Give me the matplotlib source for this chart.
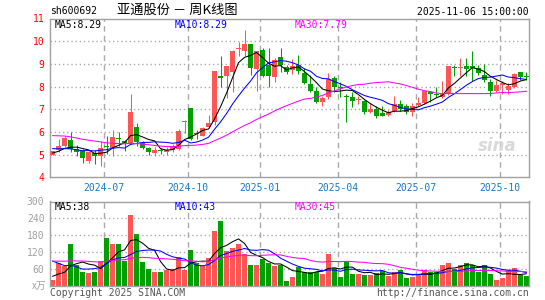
import matplotlib
matplotlib.use("Agg")
import matplotlib.pyplot as plt
import numpy as np
import pandas as pd

plt.rcParams['font.family'] = ['DejaVu Sans Mono', 'Noto Sans CJK SC']

# weekly K-line of sh600692, week of 2024-04-29 .. week of 2025-11-03
open_ = [5.00, 5.22, 5.37, 5.66, 5.25, 5.22, 4.74, 5.07, 4.93, 5.40,
         5.31, 5.70, 5.62, 5.47, 6.20, 5.50, 5.29, 5.06, 5.19, 5.13,
         5.21, 5.25, 6.44, 7.06, 5.96, 5.84, 6.20, 6.42, 8.48, 8.48,
         8.62, 9.66, 9.57, 9.87, 8.77, 9.62, 8.94, 8.40, 9.31, 8.87,
         8.74, 8.94, 8.59, 8.11, 7.82, 7.30, 7.52, 8.36, 7.96, 7.55,
         7.52, 7.40, 7.38, 6.89, 7.01, 6.83, 6.74, 6.94, 7.23, 7.16,
         6.89, 7.18, 7.27, 7.77, 7.64, 7.52, 7.67, 8.86, 8.82, 8.89,
         8.92, 8.80, 8.50, 8.21, 7.82, 8.06, 7.86, 7.96, 8.62, 8.48]
high = [5.17, 5.69, 5.84, 5.98, 5.43, 5.25, 5.18, 5.22, 5.62, 5.84,
        6.10, 6.01, 5.64, 7.68, 6.39, 5.62, 5.32, 5.32, 5.30, 5.32,
        5.45, 6.13, 6.54, 7.07, 6.10, 6.20, 6.74, 8.70, 9.35, 8.92,
        9.62, 9.97, 10.50, 9.87, 9.57, 9.72, 9.68, 9.28, 9.68, 8.94,
        9.21, 9.38, 8.80, 8.50, 7.96, 7.60, 8.59, 8.47, 8.18, 7.67,
        7.74, 7.57, 7.42, 7.27, 7.16, 7.16, 6.98, 7.57, 7.42, 7.23,
        7.27, 7.52, 7.82, 7.82, 7.96, 8.26, 8.92, 8.94, 9.24, 9.28,
        9.57, 8.94, 8.99, 8.33, 8.30, 8.26, 8.15, 8.59, 8.65, 8.62]
low = [4.98, 5.10, 5.32, 5.10, 4.93, 4.63, 4.63, 4.59, 4.52, 5.01,
       4.96, 5.40, 5.16, 5.45, 5.40, 5.25, 4.99, 4.93, 5.01, 4.99,
       5.13, 5.22, 5.95, 5.66, 5.69, 5.81, 6.16, 6.30, 8.00, 7.48,
       7.74, 9.35, 9.35, 8.50, 7.82, 8.40, 8.00, 8.21, 8.62, 8.55,
       8.55, 8.55, 8.11, 7.74, 7.27, 7.16, 7.45, 7.74, 7.52, 6.42,
       7.08, 7.23, 6.79, 6.83, 6.60, 6.69, 6.69, 6.89, 6.94, 6.79,
       6.72, 7.16, 7.23, 7.33, 7.52, 7.48, 7.62, 8.45, 8.48, 8.48,
       8.26, 8.50, 8.18, 7.57, 7.74, 7.67, 7.67, 7.92, 8.30, 8.30]
close = [5.15, 5.40, 5.72, 5.25, 5.13, 4.84, 5.10, 4.93, 5.31, 5.35,
         5.79, 5.67, 5.51, 6.89, 5.54, 5.28, 5.12, 5.20, 5.16, 5.22,
         5.40, 6.06, 6.49, 5.69, 5.90, 6.19, 6.38, 8.70, 8.39, 8.91,
         9.57, 9.70, 9.87, 8.80, 9.57, 8.45, 8.48, 9.18, 8.94, 8.62,
         8.89, 8.70, 8.15, 7.79, 7.33, 7.48, 8.33, 7.96, 7.93, 7.52,
         7.38, 7.44, 6.89, 7.01, 6.72, 6.72, 6.89, 7.23, 7.01, 6.86,
         7.16, 7.27, 7.82, 7.67, 7.61, 7.67, 8.92, 8.82, 8.86, 8.77,
         8.80, 8.59, 8.30, 7.82, 8.06, 8.15, 8.04, 8.55, 8.40, 8.40]
volume = [19, 80, 68, 149, 75, 47, 43, 50, 86, 170,
          147, 149, 86, 252, 185, 83, 58, 50, 50, 54,
          58, 103, 54, 128, 82, 68, 99, 195, 230, 124,
          134, 149, 113, 72, 72, 93, 80, 68, 72, 17,
          29, 66, 50, 50, 50, 40, 114, 62, 29, 83,
          40, 40, 36, 36, 43, 52, 33, 47, 54, 26,
          29, 40, 54, 50, 47, 75, 82, 58, 75, 79,
          75, 47, 72, 40, 19, 26, 54, 61, 36, 33]

# earlier weeks, estimated from where the MA lines start; only seeds the averages
warmup_close = [5.7, 6.0, 6.4, 6.6, 6.5, 6.3, 6.1, 6.4, 6.6, 6.3,
                6.1, 5.9, 6.2, 6.0, 5.8, 6.0, 6.2, 6.0, 5.8, 5.6,
                5.5, 5.6, 5.4, 5.5, 5.3, 5.0, 5.1, 5.0, 5.1]
warmup_volume = [90, 70, 110, 85, 60, 75, 95, 120, 80, 70,
                 65, 90, 100, 85, 75, 95, 110, 80, 90, 100,
                 160, 150, 130, 140, 125, 40, 35, 38, 33]

tick_labels = ['2024-07', '2024-10', '2025-01', '2025-04', '2025-07', '2025-10']
tick_weeks = [9, 23, 35, 48, 61, 75]

price_ma_text = ['MA5:8.29', 'MA10:8.29', 'MA30:7.79']
vol_ma_text = ['MA5:38', 'MA10:43', 'MA30:45']

RED = '#ff5555'
GREEN = '#00a000'
MA_COLORS = ['black', '#0000ff', '#ff00ff']
GRID = '#aaaaaa'
FS = 7

W, H = 545, 300


def rect(left, top, right, bottom):
    return [left / W, 1 - bottom / H, (right - left) / W, (bottom - top) / H]


def moving(seed, values, n):
    s = pd.Series(seed + values, dtype=float)
    return s.rolling(n).mean().to_numpy()[len(seed):]


o = np.array(open_)
h = np.array(high)
l = np.array(low)
c = np.array(close)
v = np.array(volume)
x = np.arange(len(c))
cols = np.where(c >= o, RED, GREEN)

fig = plt.figure(figsize=(W / 100, H / 100), dpi=100)
ax = fig.add_axes(rect(50, 18.5, 529, 177.3))
axv = fig.add_axes(rect(50, 201.5, 529, 285.5))

for a in (ax, axv):
    a.set_xlim(-0.45, len(c) - 0.55)
    for s in a.spines.values():
        s.set_color('#a0a0a0')
        s.set_linewidth(1)
    for t in tick_weeks:
        a.axvline(t - 0.45, color=GRID, lw=1, dashes=(4, 3), zorder=0)
    a.tick_params(length=0, pad=4)

# price panel
ax.set_ylim(4, 11)
ax.set_yticks(range(4, 12))
ax.set_yticklabels([str(t) for t in range(4, 12)], color='red', fontsize=FS)
for yv in range(5, 11):
    ax.axhline(yv, color=GRID, lw=1, dashes=(1, 2), zorder=0)
ax.set_xticks([t - 0.45 for t in tick_weeks])
ax.set_xticklabels(tick_labels, color='#1a78c2', fontsize=FS)

ax.vlines(x, l, h, colors=cols, lw=0.75, zorder=2)
body = np.maximum(np.abs(c - o), 0.045)
ax.bar(x, body, bottom=np.minimum(o, c), width=0.8, color=cols, lw=0, zorder=3)
for n, col in zip((5, 10, 30), MA_COLORS):
    ax.plot(x, moving(warmup_close, close, n), color=col, lw=0.75, zorder=4)

ax.text(0.975, 0.2, 'sina', transform=ax.transAxes, ha='right', va='center',
        fontsize=12, fontstyle='italic', fontweight='bold', color='#d9d9d9',
        family='DejaVu Sans', zorder=1)

# volume panel
axv.set_ylim(0, 300)
axv.set_yticks(range(60, 301, 60))
axv.set_yticklabels([str(t) for t in range(60, 301, 60)], color='#a0a0a0', fontsize=FS)
for yv in range(60, 300, 60):
    axv.axhline(yv, color=GRID, lw=1, dashes=(1, 2), zorder=0)
axv.set_xticks([])
axv.bar(x, v, width=0.8, color=cols, lw=0, zorder=2)
for n, col in zip((5, 10, 30), MA_COLORS):
    axv.plot(x, moving(warmup_volume, volume, n), color=col, lw=0.75, zorder=3)


def ftext(px, py, s, **kw):
    fig.text(px / W, 1 - py / H, s, va='center', **kw)


ftext(50, 11, 'sh600692', fontsize=FS)
ftext(177, 10, '亚通股份 － 周K线图', ha='center', fontsize=9.5,
      family=['Noto Sans CJK SC', 'DejaVu Sans'])
ftext(529, 12, '2025-11-06 15:00:00', ha='right', fontsize=FS)
for px, s, col in zip((55, 175, 295), price_ma_text, MA_COLORS):
    ftext(px, 24.5, s, color=col, fontsize=FS)
for px, s, col in zip((55, 175, 295), vol_ma_text, MA_COLORS):
    ftext(px, 207, s, color=col, fontsize=FS)
ftext(46, 286, 'x万', ha='right', color='#a0a0a0', fontsize=FS,
      family=['Noto Sans CJK SC', 'DejaVu Sans'])
ftext(50, 292.5, 'Copyright 2025 SINA.COM', color='#555555', fontsize=FS)
ftext(529, 292.5, 'http://finance.sina.com.cn', ha='right', color='#555555', fontsize=FS)

fig.savefig('out.png', dpi=100, facecolor='white')
